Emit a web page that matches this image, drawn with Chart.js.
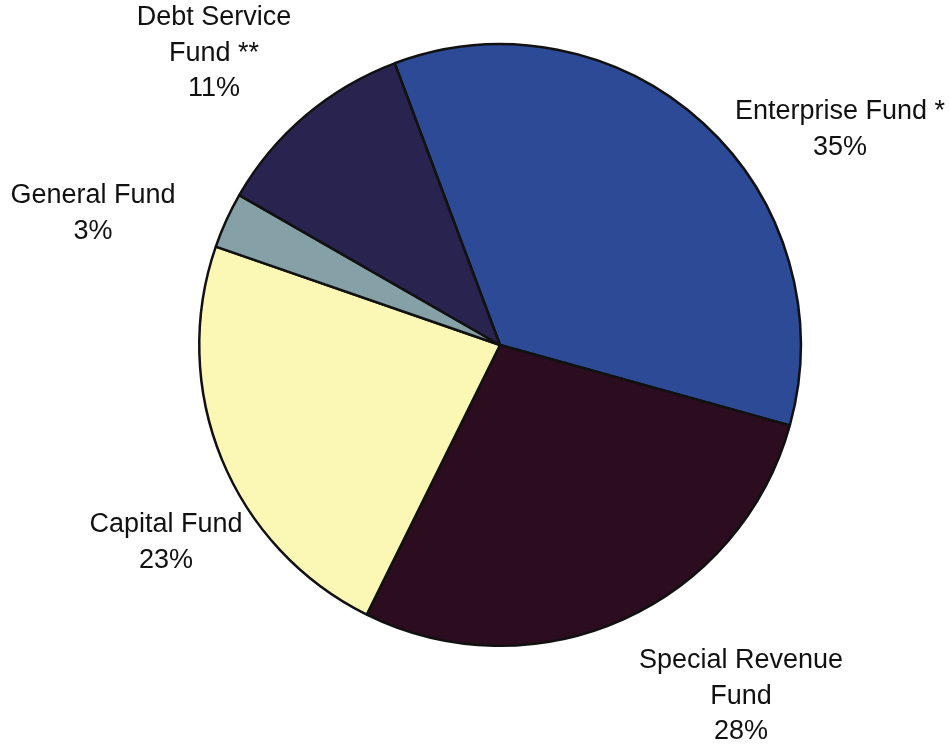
<!DOCTYPE html>
<html>
<head>
<meta charset="utf-8">
<script src="https://cdn.jsdelivr.net/npm/chart.js@4/dist/chart.umd.min.js"></script>
<style>
  html, body { margin: 0; padding: 0; background: #ffffff; }
  #wrap { width: 950px; height: 746px; position: relative; }
</style>
</head>
<body>
<div id="wrap"><canvas id="c" width="950" height="746"></canvas></div>
<script>
// ---- data ----
const categories = ["Enterprise Fund *", "Special Revenue Fund", "Capital Fund", "General Fund", "Debt Service Fund **"];
const percentValues = [35, 28, 23, 3, 11];
const labelLines = [
  ["Enterprise Fund *", "35%"],
  ["Special Revenue", "Fund", "28%"],
  ["Capital Fund", "23%"],
  ["General Fund", "3%"],
  ["Debt Service", "Fund **", "11%"]
];

// ---- styling ----
const sliceColors = ["#2d4a96", "#2c0c1f", "#fbf8b6", "#86a0a8", "#29234f"];
const labelAnchors = [ // centre x, first line middle y
  [840, 112], [741, 661], [166, 525], [93, 196], [214, 18]
];

const labelPlugin = {
  id: 'sliceLabels',
  afterDraw(chart) {
    const ctx = chart.ctx;
    ctx.save();
    ctx.font = '27px "Liberation Sans", Arial, Helvetica, sans-serif';
    ctx.fillStyle = '#111111';
    ctx.textAlign = 'center';
    ctx.textBaseline = 'middle';
    const lh = 35.5;
    labelLines.forEach((lines, i) => {
      const [x, y] = labelAnchors[i];
      lines.forEach((t, j) => ctx.fillText(t, x, y + j * lh));
    });
    ctx.restore();
  }
};

new Chart(document.getElementById('c'), {
  type: 'pie',
  data: {
    labels: categories,
    datasets: [{
      data: percentValues,
      backgroundColor: sliceColors,
      borderColor: '#111111',
      borderWidth: 2.5,
      borderAlign: 'center'
    }]
  },
  options: {
    responsive: false,
    animation: false,
    rotation: -20.5,
    layout: { padding: { left: 198, right: 148, top: 43, bottom: 99 } },
    plugins: {
      legend: { display: false },
      tooltip: { enabled: false },
      title: { display: false }
    }
  },
  plugins: [labelPlugin]
});
</script>
</body>
</html>
